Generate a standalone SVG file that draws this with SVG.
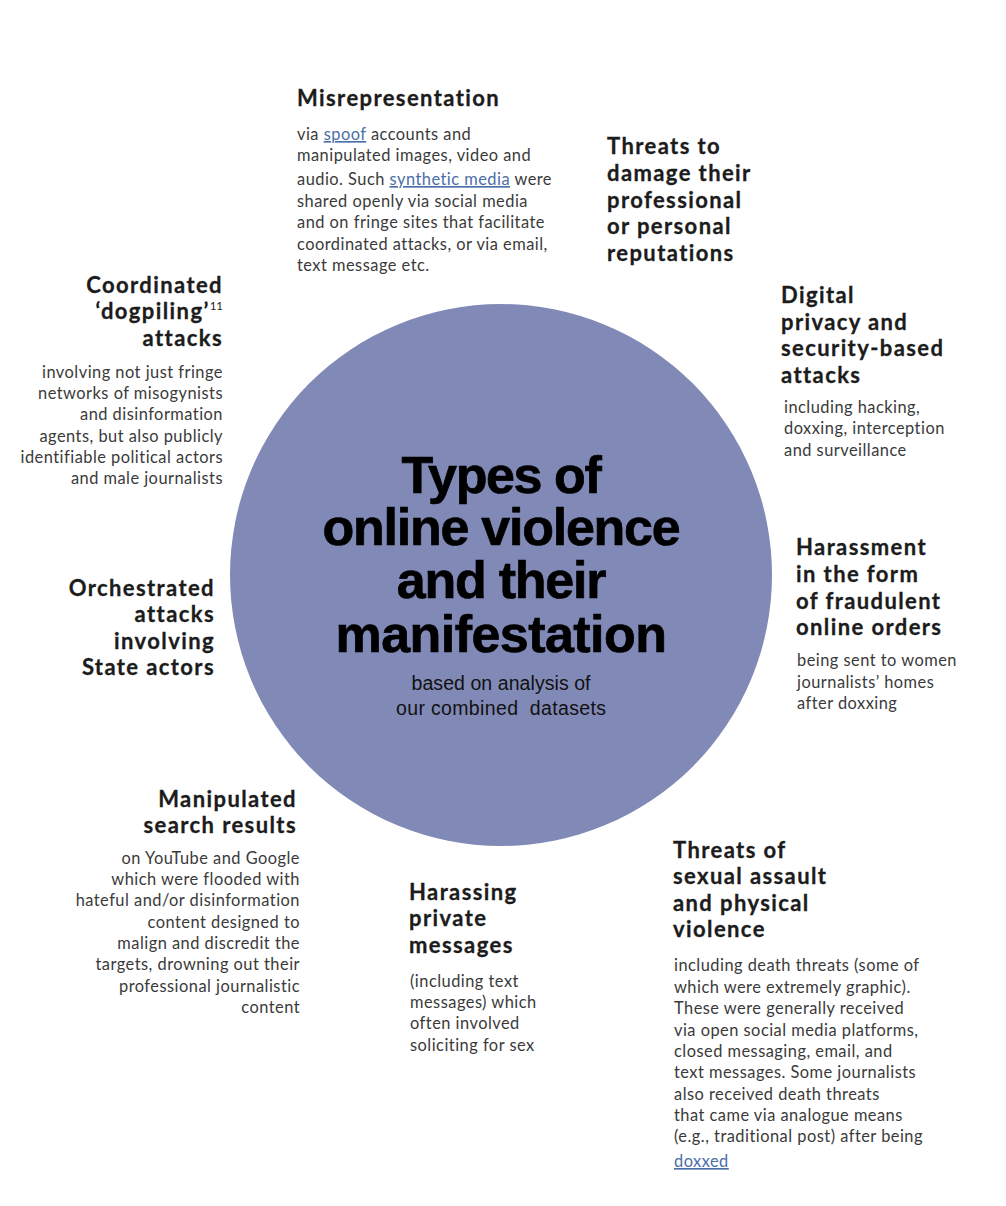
<svg xmlns="http://www.w3.org/2000/svg" width="1006" height="1206" viewBox="0 0 1006 1206">
<style>
.h{font-family:Lato,"Open Sans",sans-serif;font-weight:700;font-size:22px;letter-spacing:1.4px;fill:#1c1c1c;stroke:#1c1c1c;stroke-width:0.3px}
.b{font-family:Lato,"Open Sans",sans-serif;font-size:16.4px;letter-spacing:0.48px;fill:#3a3a3a}
.r{text-anchor:end}
.l{fill:#4a6ea8;text-decoration:underline}
.t{font-family:"Liberation Sans",Arial,sans-serif;font-weight:700;font-size:52px;fill:#000;stroke:#000;stroke-width:0.7px;text-anchor:middle}
.s{font-family:"Liberation Sans",Arial,sans-serif;font-size:19.5px;fill:#111;text-anchor:middle}
</style>
<rect width="1006" height="1206" fill="#fff"/>
<g id="center">
<circle cx="501" cy="575" r="271" fill="#8189b6"/>
<text class="t"><tspan x="501" y="493" letter-spacing="-1.4">Types of</tspan><tspan x="501" y="545" letter-spacing="-1.25">online violence</tspan><tspan x="501" y="598" letter-spacing="-1.25">and their</tspan><tspan x="501" y="652" letter-spacing="-0.55">manifestation</tspan></text>
<text class="s" x="501" y="690" textLength="179" lengthAdjust="spacing">based on analysis of</text>
<text class="s" x="501" y="715" textLength="210" lengthAdjust="spacing" xml:space="preserve">our combined  datasets</text>
</g>
<g id="connectors"></g>
<g id="misrepresentation">
<text class="h" x="297" y="106">Misrepresentation</text>
<text class="b" x="297" y="140">via <tspan class="l">spoof</tspan> accounts and</text>
<text class="b" x="297" y="161">manipulated images, video and</text>
<text class="b" x="297" y="185">audio. Such <tspan class="l">synthetic media</tspan> were</text>
<text class="b" x="297" y="207">shared openly via social media</text>
<text class="b" x="297" y="228">and on fringe sites that facilitate</text>
<text class="b" x="297" y="250">coordinated attacks, or via email,</text>
<text class="b" x="297" y="271">text message etc.</text>
</g>
<g id="reputation">
<text class="h" x="607" y="154">Threats to</text>
<text class="h" x="607" y="181">damage their</text>
<text class="h" x="607" y="208">professional</text>
<text class="h" x="607" y="234">or personal</text>
<text class="h" x="607" y="261">reputations</text>
</g>
<g id="digital-privacy">
<text class="h" x="781" y="303">Digital</text>
<text class="h" x="781" y="330">privacy and</text>
<text class="h" x="781" y="356">security-based</text>
<text class="h" x="781" y="383">attacks</text>
<text class="b" x="784" y="413">including hacking,</text>
<text class="b" x="784" y="434">doxxing, interception</text>
<text class="b" x="784" y="456">and surveillance</text>
</g>
<g id="dogpiling">
<text class="h r" x="223" y="293">Coordinated</text>
<text class="h r" x="223" y="319">‘dogpiling’<tspan font-size="11.5" font-weight="400" stroke-width="0" letter-spacing="0" dy="-9">11</tspan></text>
<text class="h r" x="223" y="346">attacks</text>
<text class="b r" x="223" y="378">involving not just fringe</text>
<text class="b r" x="223" y="399">networks of misogynists</text>
<text class="b r" x="223" y="420">and disinformation</text>
<text class="b r" x="223" y="442">agents, but also publicly</text>
<text class="b r" x="223" y="463">identifiable political actors</text>
<text class="b r" x="223" y="484">and male journalists</text>
</g>
<g id="state-actors">
<text class="h r" x="215" y="596">Orchestrated</text>
<text class="h r" x="215" y="622">attacks</text>
<text class="h r" x="215" y="649">involving</text>
<text class="h r" x="215" y="675">State actors</text>
</g>
<g id="fraudulent-orders">
<text class="h" x="796" y="555">Harassment</text>
<text class="h" x="796" y="582">in the form</text>
<text class="h" x="796" y="609">of fraudulent</text>
<text class="h" x="796" y="635">online orders</text>
<text class="b" x="797" y="666">being sent to women</text>
<text class="b" x="797" y="688">journalists’ homes</text>
<text class="b" x="797" y="709">after doxxing</text>
</g>
<g id="search-results">
<text class="h r" x="297" y="807">Manipulated</text>
<text class="h r" x="297" y="833">search results</text>
<text class="b r" x="300" y="864">on YouTube and Google</text>
<text class="b r" x="300" y="885">which were flooded with</text>
<text class="b r" x="300" y="906">hateful and/or disinformation</text>
<text class="b r" x="300" y="928">content designed to</text>
<text class="b r" x="300" y="949">malign and discredit the</text>
<text class="b r" x="300" y="970">targets, drowning out their</text>
<text class="b r" x="300" y="992">professional journalistic</text>
<text class="b r" x="300" y="1013">content</text>
</g>
<g id="private-messages">
<text class="h" x="409" y="900">Harassing</text>
<text class="h" x="409" y="926">private</text>
<text class="h" x="409" y="953">messages</text>
<text class="b" x="410" y="987">(including text</text>
<text class="b" x="410" y="1008">messages) which</text>
<text class="b" x="410" y="1029">often involved</text>
<text class="b" x="410" y="1051">soliciting for sex</text>
</g>
<g id="physical-violence">
<text class="h" x="673" y="858">Threats of</text>
<text class="h" x="673" y="884">sexual assault</text>
<text class="h" x="673" y="911">and physical</text>
<text class="h" x="673" y="937">violence</text>
<text class="b" x="674" y="971">including death threats (some of</text>
<text class="b" x="674" y="993">which were extremely graphic).</text>
<text class="b" x="674" y="1014">These were generally received</text>
<text class="b" x="674" y="1036">via open social media platforms,</text>
<text class="b" x="674" y="1057">closed messaging, email, and</text>
<text class="b" x="674" y="1078">text messages. Some journalists</text>
<text class="b" x="674" y="1100">also received death threats</text>
<text class="b" x="674" y="1121">that came via analogue means</text>
<text class="b" x="674" y="1142">(e.g., traditional post) after being</text>
<text class="b l" x="674" y="1167">doxxed</text>
</g>
</svg>
